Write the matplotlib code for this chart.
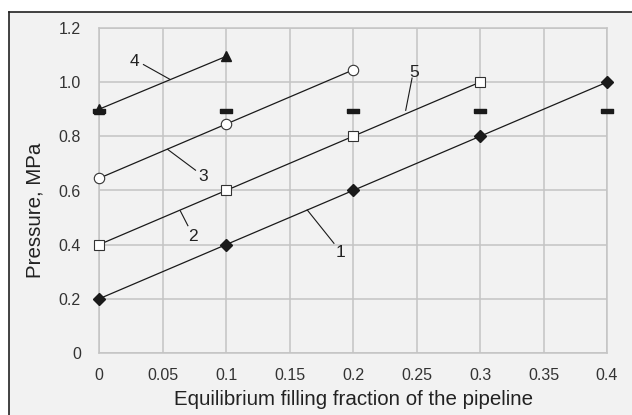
import matplotlib
matplotlib.use("Agg")
import matplotlib.pyplot as plt
from matplotlib.patches import Rectangle
from matplotlib.lines import Line2D

plt.rcParams['font.family'] = ['Liberation Sans', 'DejaVu Sans']

# data
x1 = [0, 0.1, 0.2, 0.3, 0.4]
y1 = [0.2, 0.4, 0.6, 0.8, 1.0]
x2 = [0, 0.1, 0.2, 0.3]
y2 = [0.4, 0.6, 0.8, 1.0]
x3 = [0, 0.1, 0.2]
y3 = [0.645, 0.845, 1.045]
x4 = [0, 0.1]
y4 = [0.9, 1.095]
x5 = [0, 0.1, 0.2, 0.3, 0.4]
y5 = [0.895, 0.895, 0.895, 0.895, 0.895]

xticks = [0, 0.05, 0.1, 0.15, 0.2, 0.25, 0.3, 0.35, 0.4]
xtick_labels = ["0", "0.05", "0.1", "0.15", "0.2", "0.25", "0.3", "0.35", "0.4"]
yticks = [0, 0.2, 0.4, 0.6, 0.8, 1.0, 1.2]
ytick_labels = ["0", "0.2", "0.4", "0.6", "0.8", "1.0", "1.2"]

# curve labels: text, text position, leader start, leader end
labels = [
    ("1", (0.19, 0.37), (0.185, 0.405), (0.164, 0.528)),
    ("2", (0.074, 0.432), (0.070, 0.47), (0.064, 0.525)),
    ("3", (0.082, 0.650), (0.076, 0.675), (0.054, 0.752)),
    ("4", (0.028, 1.078), (0.035, 1.065), (0.056, 1.010)),
    ("5", (0.248, 1.037), (0.2465, 1.015), (0.2415, 0.896)),
]

fig = plt.figure(figsize=(6.32, 4.15), dpi=100, facecolor="white")

# grey panel with black frame on left and top
fig.add_artist(Rectangle((9 / 632, 0), 1, (415 - 12) / 415, transform=fig.transFigure,
                         facecolor="#f2f2f2", edgecolor="none", zorder=-10))
fig.add_artist(Line2D([9 / 632, 9 / 632], [0, (415 - 12) / 415], transform=fig.transFigure,
                      color="#222222", lw=1.2, zorder=-5))
fig.add_artist(Line2D([9 / 632, 1], [(415 - 12) / 415, (415 - 12) / 415], transform=fig.transFigure,
                      color="#222222", lw=1.2, zorder=-5))

ax = fig.add_axes([99 / 632, (415 - 353) / 415, (607 - 99) / 632, (353 - 28) / 415])
ax.set_facecolor("#f2f2f2")
ax.set_xlim(0, 0.4)
ax.set_ylim(0, 1.2)
ax.set_xticks(xticks)
ax.set_xticklabels(xtick_labels)
ax.set_yticks(yticks)
ax.set_yticklabels(ytick_labels)
ax.tick_params(length=0, labelsize=11.5, labelcolor="#333333")
ax.tick_params(axis="x", pad=10.5)
ax.tick_params(axis="y", pad=13)
ax.grid(True, color="#c4c4c4", lw=1.1)
for s in ax.spines.values():
    s.set_color("#c4c4c4")
    s.set_linewidth(1.1)

lc = "#1a1a1a"
bar = [(-1.2, -0.45), (1.2, -0.45), (1.2, 0.45), (-1.2, 0.45), (-1.2, -0.45)]
ax.plot(x1, y1, color=lc, lw=0.9, marker="D", ms=6, mfc=lc, mec=lc, clip_on=False, zorder=3)
ax.plot(x2, y2, color=lc, lw=0.9, marker="s", ms=6.5, mfc="white", mec="#333333", mew=0.8,
        clip_on=False, zorder=3)
ax.plot(x3, y3, color=lc, lw=0.9, marker="o", ms=7.5, mfc="white", mec="#333333", mew=0.8,
        clip_on=False, zorder=3)
ax.plot(x4, y4, color=lc, lw=0.9, marker="^", ms=7.5, mfc=lc, mec=lc, clip_on=False, zorder=3)
ax.plot(x5, y5, ls="none", marker=bar, ms=9, mfc=lc, mec=lc, clip_on=False, zorder=4)

for txt, pos, p0, p1 in labels:
    ax.text(pos[0], pos[1], txt, fontsize=12.5, color="#222222", ha="center", va="center")
    ax.plot([p0[0], p1[0]], [p0[1], p1[1]], color=lc, lw=0.8)

ax.set_xlabel("Equilibrium filling fraction of the pipeline", fontsize=14.8, color="#222222")
ax.xaxis.label.set_va("center")
ax.xaxis.set_label_coords(0.5, (353 - 399) / 325)
ax.set_ylabel("Pressure, MPa", fontsize=14.8, color="#222222")
ax.yaxis.label.set_va("center")
ax.yaxis.set_label_coords((35 - 99) / 508, (353 - 210) / 325)

fig.savefig("out.png", dpi=100, facecolor="white")
